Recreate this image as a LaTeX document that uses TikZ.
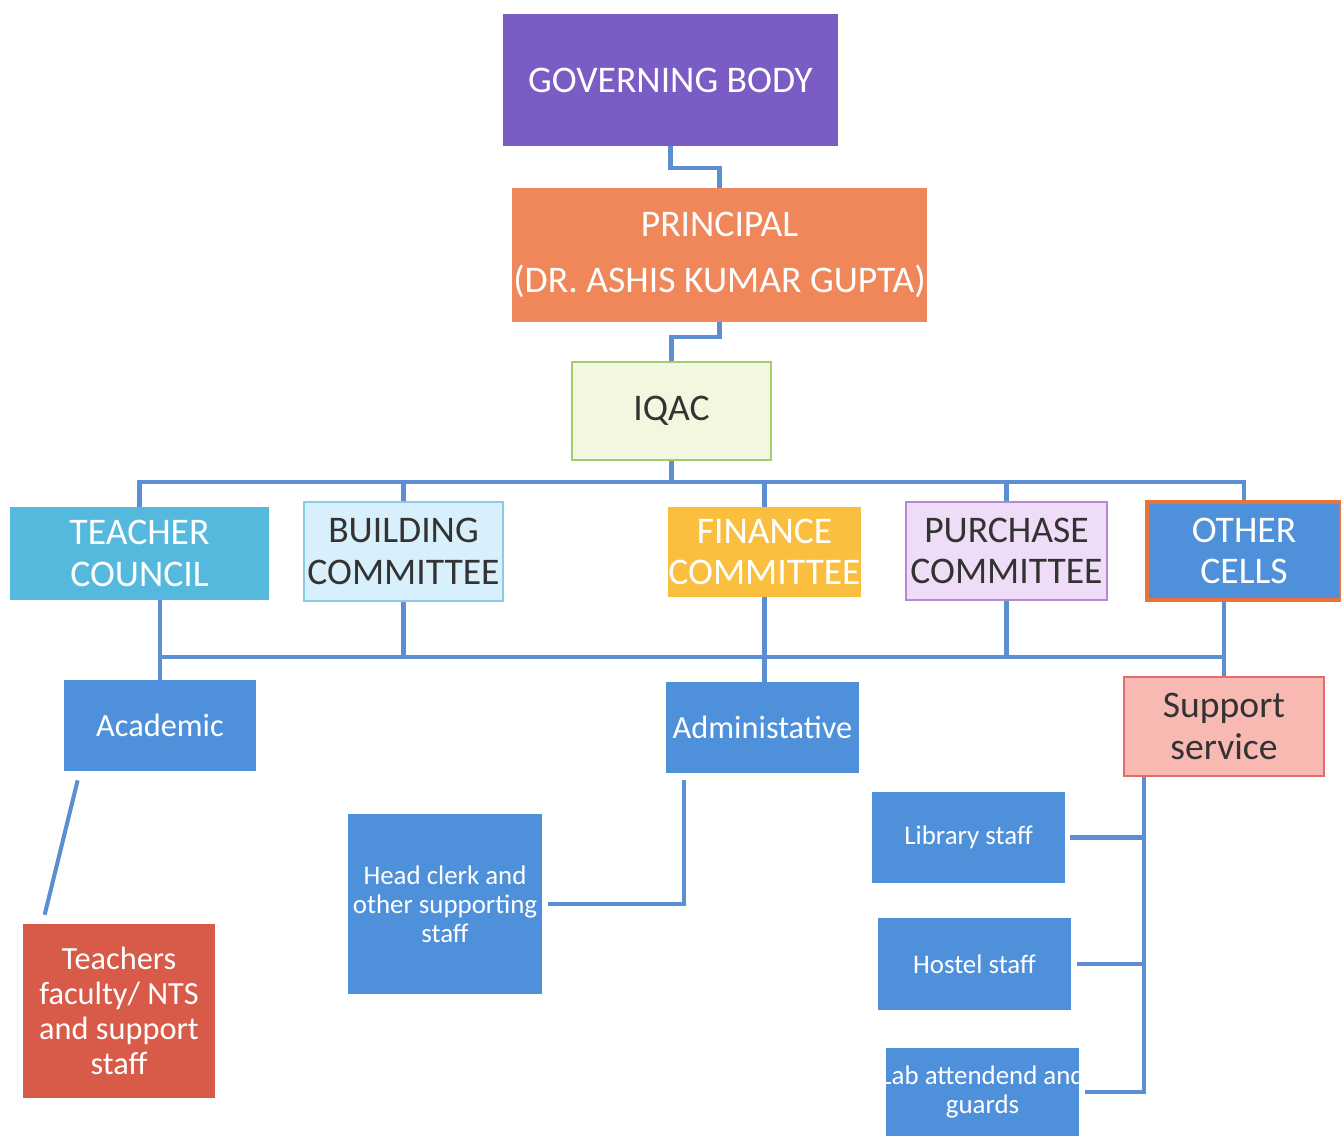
\documentclass[tikz,border=0pt]{standalone}
\usepackage{fontspec}
\setmainfont{Carlito}
\usetikzlibrary{calc}

\definecolor{govcol}{HTML}{7B5CC4}
\definecolor{prinorange}{HTML}{F0875A}
\definecolor{iqacfill}{HTML}{F2F8E0}
\definecolor{iqacline}{HTML}{A3CC6A}
\definecolor{teachcyan}{HTML}{55B9DE}
\definecolor{bldfill}{HTML}{D8F0FB}
\definecolor{bldline}{HTML}{8CCBE8}
\definecolor{finyellow}{HTML}{FBBF3F}
\definecolor{purfill}{HTML}{EFDCF7}
\definecolor{purline}{HTML}{B48AD6}
\definecolor{cellblue}{HTML}{4F90DA}
\definecolor{cellline}{HTML}{E9733B}
\definecolor{supfill}{HTML}{F8B9B3}
\definecolor{supline}{HTML}{E36D6D}
\definecolor{tchred}{HTML}{D85A48}
\definecolor{linkblue}{HTML}{5B8ED2}
\definecolor{darktext}{HTML}{333333}

\begin{document}
\begin{tikzpicture}[
  x=0.02cm, y=-0.02cm,
  box/.style={rectangle,inner sep=0pt,align=center,text=white},
  lightbox/.style={box,text=darktext,line width=1.2pt},
  link/.style={draw=linkblue,line width=2.3pt},
  bigtxt/.style={font=\fontsize{21.4}{23.5}\selectfont},
  midtxt/.style={font=\fontsize{18.4}{20}\selectfont},
  smalltxt/.style={font=\fontsize{15.3}{16.5}\selectfont}
]
  \useasboundingbox (0,0) rectangle (1341,1136);
  \clip (0,0) rectangle (1341,1136);

  % top of the chart
  \node[box,bigtxt,fill=govcol,minimum width=6.7cm,minimum height=2.64cm] (gov) at (670.5,80) {GOVERNING BODY};
  \node[box,bigtxt,fill=prinorange,minimum width=8.3cm,minimum height=2.68cm] (prin) at (719.5,255)
    {PRINCIPAL\\[8pt](DR. ASHIS KUMAR GUPTA)};
  \node[lightbox,bigtxt,fill=iqacfill,draw=iqacline,minimum width=3.98cm,minimum height=1.96cm] (iqac) at (671.5,411) {IQAC};

  % committees
  \node[box,bigtxt,fill=teachcyan,minimum width=5.18cm,minimum height=1.86cm] (tc) at (139.5,553.5) {TEACHER\\COUNCIL};
  \node[lightbox,bigtxt,fill=bldfill,draw=bldline,minimum width=3.98cm,minimum height=1.98cm] (bld) at (403.5,551.5) {BUILDING\\COMMITTEE};
  \node[box,bigtxt,fill=finyellow,minimum width=3.86cm,minimum height=1.8cm] (fin) at (764.5,552) {FINANCE\\COMMITTEE};
  \node[lightbox,bigtxt,fill=purfill,draw=purline,minimum width=4.02cm,minimum height=1.96cm] (pur) at (1006.5,551) {PURCHASE\\COMMITTEE};
  \node[box,bigtxt,fill=cellblue,draw=cellline,line width=2.5pt,minimum width=3.88cm,minimum height=1.96cm] (oth) at (1244,551) {OTHER\\CELLS};

  % sections
  \node[box,midtxt,fill=cellblue,minimum width=3.84cm,minimum height=1.82cm] (acad) at (160,725.5) {Academic};
  \node[box,midtxt,fill=cellblue,minimum width=3.86cm,minimum height=1.82cm] (adm) at (762.5,727.5) {Administative};
  \node[lightbox,bigtxt,fill=supfill,draw=supline,minimum width=4cm,minimum height=1.98cm] (sup) at (1224,726.5) {Support\\service};

  % staff
  \node[box,midtxt,fill=tchred,minimum width=3.84cm,minimum height=3.48cm] (tch) at (119,1011) {Teachers\\faculty/ NTS\\and support\\staff};
  \node[box,smalltxt,fill=cellblue,minimum width=3.88cm,minimum height=3.6cm] (head) at (445,904) {Head clerk and\\other supporting\\staff};
  \node[box,smalltxt,fill=cellblue,minimum width=3.86cm,minimum height=1.82cm] (lib) at (968.5,837.5) {Library staff};
  \node[box,smalltxt,fill=cellblue,minimum width=3.86cm,minimum height=1.84cm] (hos) at (974.5,964) {Hostel staff};
  \node[box,smalltxt,fill=cellblue,minimum width=3.86cm,minimum height=1.76cm] (lab) at (982.5,1092) {\makebox[0pt]{Lab attendend and}\\guards};

  % buses
  \coordinate (topbus) at (0,482);
  \coordinate (lowbus) at (0,657);
  \coordinate (spine) at ($(sup.south west)+(21,0)$);

  % links
  \draw[link] (gov.south) -- ++(0,22) -| (prin.north);
  \draw[link] (prin.south) -- ++(0,15) -| (iqac.north);
  \draw[link] (iqac.south) -- (iqac.south |- topbus);
  \draw[link] (tc.north) -- (tc.north |- topbus) -- (oth.north |- topbus) -- (oth.north);
  \draw[link] (bld.north) -- (bld.north |- topbus);
  \draw[link] (fin.north) -- (fin.north |- topbus);
  \draw[link] (pur.north) -- (pur.north |- topbus);

  \draw[link] (acad.north |- tc.south) -- (acad.north);
  \draw[link] (acad.north |- lowbus) -- (sup.north |- lowbus);
  \draw[link] (bld.south) -- (bld.south |- lowbus);
  \draw[link] (fin.south) -- (fin.south |- adm.north);
  \draw[link] (pur.south) -- (pur.south |- lowbus);
  \draw[link] (sup.north |- oth.south) -- (sup.north);

  \draw[link] ($(acad.south west)+(14,9)$) -- ($(tch.north west)+(22,-9)$);
  \draw[link] ($(adm.south west)+(18,7)$) |- ($(head.east)+(6,0)$);
  \draw[link] (spine) |- ($(lab.east)+(6,0)$);
  \draw[link] ($(lib.east)+(5,0)$) -- (spine |- lib.east);
  \draw[link] ($(hos.east)+(6,0)$) -- (spine |- hos.east);
\end{tikzpicture}
\end{document}
